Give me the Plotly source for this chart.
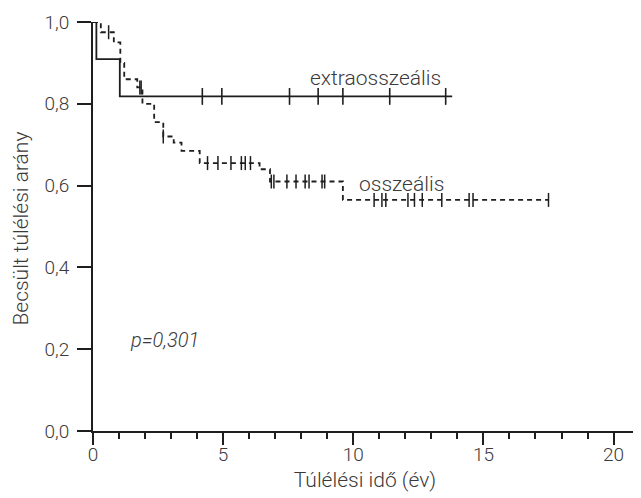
import plotly.graph_objects as go

# ---- data ----
oss_times = [0, 0.3, 0.8, 1.05, 1.2, 1.7, 1.9, 2.35, 2.7, 3.1, 3.4, 4.1, 6.4, 6.8, 9.6, 17.5]
oss_surv = [1.0, 0.975, 0.95, 0.90, 0.86, 0.84, 0.80, 0.755, 0.72, 0.705, 0.685, 0.655, 0.64, 0.61, 0.565, 0.565]
oss_cens = [0.6, 1.8, 1.85, 2.7, 4.4, 4.8, 5.3, 5.7, 5.85, 6.05, 6.85, 6.95, 7.45, 7.8,
            8.15, 8.3, 8.8, 8.9, 10.8, 11.1, 11.25, 12.1, 12.35, 12.65, 13.4, 14.45, 14.6, 17.5]

ext_times = [0, 0.13, 1.03, 13.8]
ext_surv = [1.0, 0.909, 0.818, 0.818]
ext_cens = [4.2, 4.95, 7.55, 8.65, 9.6, 11.4, 13.55]

x_ticks = [0, 5, 10, 15, 20]
y_ticks = [0.0, 0.2, 0.4, 0.6, 0.8, 1.0]

label_ext = "extraosszeális"
label_oss = "osszeális"
p_text = "p=0,301"
x_title = "Túlélési idő (év)"
y_title = "Becsült túlélési arány"


def surv_at(times, surv, t):
    s = surv[0]
    for ti, si in zip(times, surv):
        if ti <= t:
            s = si
    return s


FONT = "Roboto"
INK = "#1e1e1e"
TXT = "#3a3a3a"

fig = go.Figure()

fig.add_trace(go.Scatter(x=ext_times, y=ext_surv, mode="lines", line_shape="hv",
                         line=dict(color=INK, width=1.8), cliponaxis=False, showlegend=False))
fig.add_trace(go.Scatter(x=ext_cens, y=[surv_at(ext_times, ext_surv, t) for t in ext_cens],
                         mode="markers", marker=dict(symbol="line-ns", size=12,
                                                     line=dict(color=INK, width=1.6)),
                         cliponaxis=False, showlegend=False))

fig.add_trace(go.Scatter(x=oss_times, y=oss_surv, mode="lines", line_shape="hv",
                         line=dict(color=INK, width=1.8, dash="5px,4px"), cliponaxis=False,
                         showlegend=False))
fig.add_trace(go.Scatter(x=oss_cens, y=[surv_at(oss_times, oss_surv, t) for t in oss_cens],
                         mode="markers", marker=dict(symbol="line-ns", size=10,
                                                     line=dict(color=INK, width=1.5)),
                         cliponaxis=False, showlegend=False))

fig.add_annotation(x=10.85, y=0.864, text=label_ext, showarrow=False,
                   font=dict(family=FONT, size=21, color=TXT, weight=300))
fig.add_annotation(x=11.85, y=0.605, text=label_oss, showarrow=False,
                   font=dict(family=FONT, size=21, color=TXT, weight=300))
fig.add_annotation(x=2.73, y=0.222, text="<i>" + p_text + "</i>", showarrow=False,
                   font=dict(family=FONT, size=20, color=TXT, weight=300))

# y-axis title as a rotated annotation (placed further left than the axis title allows)
fig.add_annotation(xref="paper", yref="paper", x=-0.1315, y=0.496, text=y_title,
                   textangle=-90, showarrow=False, xanchor="center", yanchor="middle",
                   borderpad=0,
                   font=dict(family=FONT, size=21, color=TXT, weight=300))

# the page body has an 8px default margin, so the figure is offset by 8px
fig.update_layout(
    width=633, height=490,
    margin=dict(l=85, r=4, t=14, b=67),
    paper_bgcolor="white", plot_bgcolor="white",
    separators=", ",
    font=dict(family=FONT, size=19, color=TXT, weight=300),
)
fig.update_xaxes(range=[0, 20.9], tickvals=x_ticks, ticktext=[str(v) for v in x_ticks],
                 automargin=False,
                 showgrid=False, zeroline=False, showline=True, linecolor=INK, linewidth=1.8,
                 ticks="outside", ticklen=12, tickwidth=1.8, tickcolor=INK,
                 ticklabelstandoff=-7,
                 tickfont=dict(family=FONT, size=19, color=TXT, weight=300),
                 minor=dict(dtick=1, ticks="outside", ticklen=6, tickwidth=1.5, tickcolor=INK),
                 title=dict(text=x_title, font=dict(family=FONT, size=21, color=TXT, weight=300), standoff=8))
fig.update_yaxes(range=[0, 1.0], tickvals=y_ticks, ticktext=[f"{v:.1f}".replace(".", ",") for v in y_ticks],
                 automargin=False,
                 showgrid=False, zeroline=False, showline=True, linecolor=INK, linewidth=1.8,
                 ticks="outside", ticklen=14, tickwidth=1.8, tickcolor=INK,
                 ticklabelstandoff=4,
                 tickfont=dict(family=FONT, size=19, color=TXT, weight=300))

fig.write_html("out.html")
